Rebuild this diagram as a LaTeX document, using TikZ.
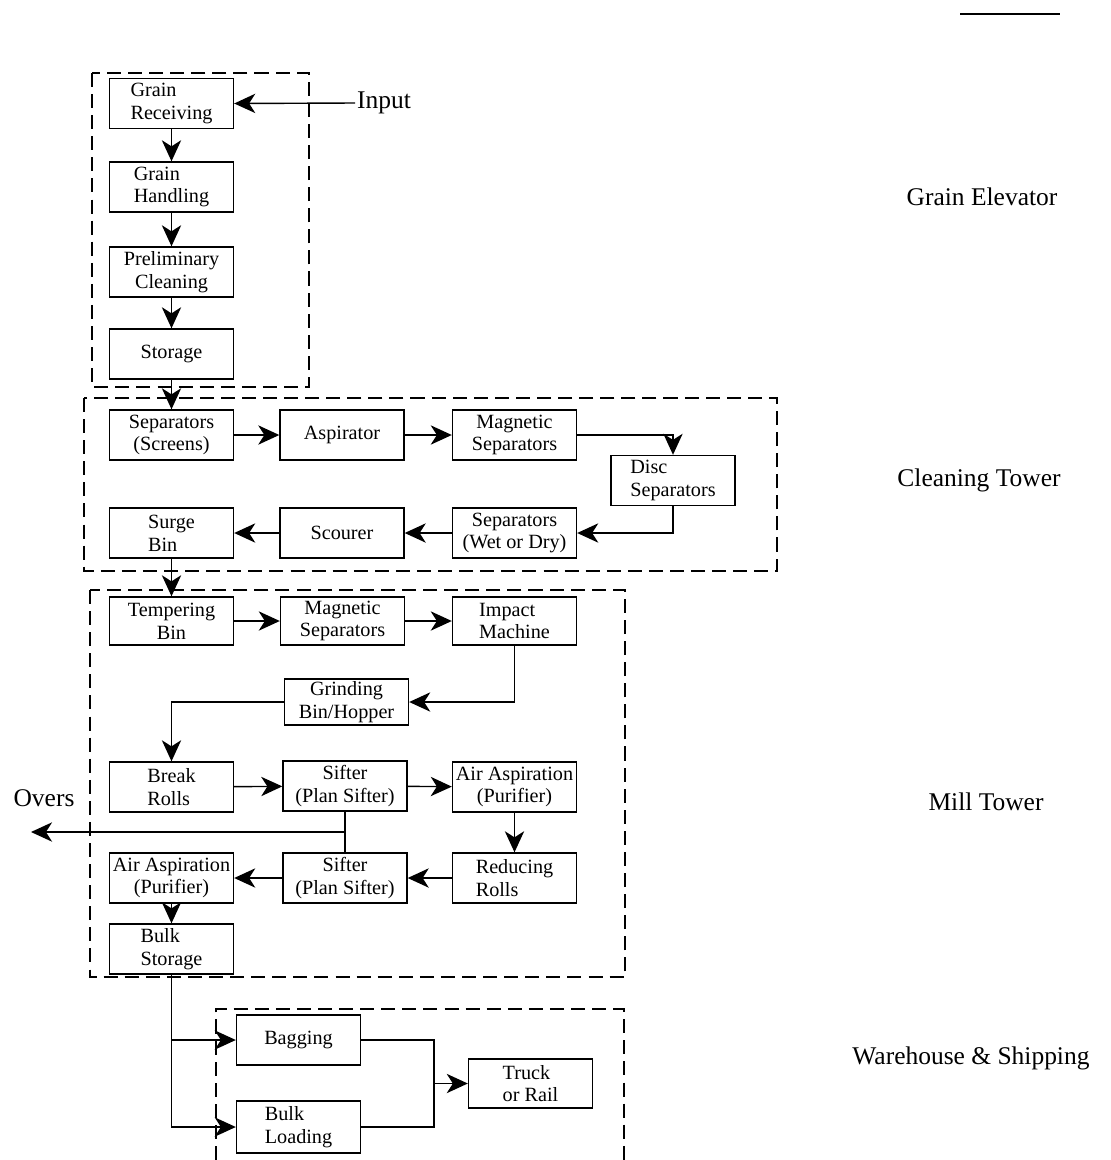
\documentclass[tikz,border=0pt]{standalone}
\usepackage{fontspec}
\setmainfont{Liberation Serif}
\usetikzlibrary{arrows.meta}

\begin{document}
\begin{tikzpicture}[
    x=0.02cm, y=-0.02cm,
    box/.style={rectangle, draw, line width=0.8pt,
                minimum width=2.48cm, minimum height=1cm, inner sep=1pt,
                align=#1, font=\fontsize{11.5}{13}\selectfont},
    box/.default=center,
    zone/.style={draw, line width=0.8pt, dash pattern=on 8pt off 4pt},
    arr/.style={-{Stealth[length=12pt, width=11pt, inset=3.5pt]}, line width=0.8pt},
    link/.style={line width=0.8pt},
    side/.style={font=\fontsize{14.5}{16}\selectfont, inner sep=1pt}
  ]
  \useasboundingbox (0,0) rectangle (1110,1160);

  %% ---- Grain Elevator ----
  \node[box=left] (recv)    at (171.5,103.5) {Grain\\Receiving};
  \node[box=left] (handl)   at (171.5,187)   {Grain\\Handling};
  \node[box]      (prelim)  at (171.5,272)   {Preliminary\\Cleaning};
  \node[box]      (storage) at (171.5,354)   {Storage};
  \node[side]     (input)   at (384,103)     {Input};
  \draw[zone] (92,73) rectangle (309,387);

  %% ---- Cleaning Tower ----
  \node[box]      (screens) at (171.5,435)   {Separators\\(Screens)};
  \node[box]      (aspir)   at (342,435)     {Aspirator};
  \node[box]      (magsep)  at (514.5,435)   {Magnetic\\Separators};
  \node[box=left] (disc)    at (673,480.5)   {Disc\\Separators};
  \node[box]      (wetdry)  at (514.5,533)   {Separators\\(Wet or Dry)};
  \node[box]      (scourer) at (342,533)     {Scourer};
  \node[box=left] (surge)   at (171.5,533)   {Surge\\Bin};
  \draw[zone] (84,398) rectangle (777,571);

  %% ---- Mill Tower ----
  \node[box, minimum height=0.96cm] (temper)  at (171.5,621) {Tempering\\Bin};
  \node[box, minimum height=0.96cm] (magsepB) at (342.5,621) {Magnetic\\Separators};
  \node[box=left, minimum height=0.96cm] (impact) at (514.5,621) {Impact\\Machine};
  \node[box, minimum height=0.92cm] (grind)   at (346.5,702) {Grinding\\Bin/Hopper};
  \node[box=left] (breakr)  at (171.5,787)   {Break\\Rolls};
  \node[box]      (sifterA) at (345,786)     {Sifter\\(Plan Sifter)};
  \node[box]      (airA)    at (514.5,787)   {Air Aspiration\\(Purifier)};
  \node[box=left] (reduce)  at (514.5,878)   {Reducing\\Rolls};
  \node[box]      (sifterB) at (345,878)     {Sifter\\(Plan Sifter)};
  \node[box]      (airB)    at (171.5,878)   {Air Aspiration\\(Purifier)};
  \node[box=left] (bulk)    at (171.5,949)   {Bulk\\Storage};
  \node[side]     (overs)   at (44,798)      {Overs};
  \coordinate (split)    at (345,832);
  \coordinate (oversEnd) at (31,832);
  \draw[zone] (90,590) rectangle (625,977);

  %% ---- Warehouse & Shipping ----
  \node[box]      (bagging) at (298.5,1040)  {Bagging};
  \node[box=left, minimum height=1.04cm] (loading) at (298.5,1127) {Bulk\\Loading};
  \node[box=left, minimum height=0.98cm] (truck)   at (530.5,1083.5) {Truck\\or Rail};
  \coordinate (join) at (434,1083.5);
  \draw[zone] (216,1160) -- (216,1009) -- (624,1009) -- (624,1160);

  %% ---- Side labels ----
  \node[side] (lblElev)  at (982,197)  {Grain Elevator};
  \node[side] (lblClean) at (979,480)  {Cleaning Tower};
  \node[side] (lblMill)  at (986,802)  {Mill Tower};
  \node[side] (lblWare)  at (971,1058) {Warehouse \& Shipping};
  \draw[line width=1.5pt] (960,14) -- (1060,14);

  %% ---- Arrows ----
  \draw[arr] (input.west) -- (recv.east);
  \draw[arr] (recv)    -- (handl);
  \draw[arr] (handl)   -- (prelim);
  \draw[arr] (prelim)  -- (storage);
  \draw[arr] (storage) -- (screens);
  \draw[arr] (screens) -- (aspir);
  \draw[arr] (aspir)   -- (magsep);
  \draw[arr] (magsep.east) -| (disc.north);
  \draw[arr] (disc.south) |- (wetdry.east);
  \draw[arr] (wetdry)  -- (scourer);
  \draw[arr] (scourer) -- (surge);
  \draw[arr] (surge)   -- (temper);
  \draw[arr] (temper)  -- (magsepB);
  \draw[arr] (magsepB) -- (impact);
  \draw[arr] (impact.south) |- (grind.east);
  \draw[arr] (grind.west) -| (breakr.north);
  \draw[arr] (breakr)  -- (sifterA);
  \draw[arr] (sifterA) -- (airA);
  \draw[arr] (airA)    -- (reduce);
  \draw[arr] (reduce)  -- (sifterB);
  \draw[arr] (sifterB) -- (airB);
  \draw[arr] (airB)    -- (bulk);
  \draw[link] (sifterA) -- (sifterB);
  \draw[arr] (split) -- (oversEnd);
  \draw[arr] (bulk.south) |- (bagging.west);
  \draw[arr] (bulk.south) |- (loading.west);
  \draw[link] (bagging.east) -| (join);
  \draw[link] (loading.east) -| (join);
  \draw[arr] (join) -- (truck.west);

\end{tikzpicture}
\end{document}
